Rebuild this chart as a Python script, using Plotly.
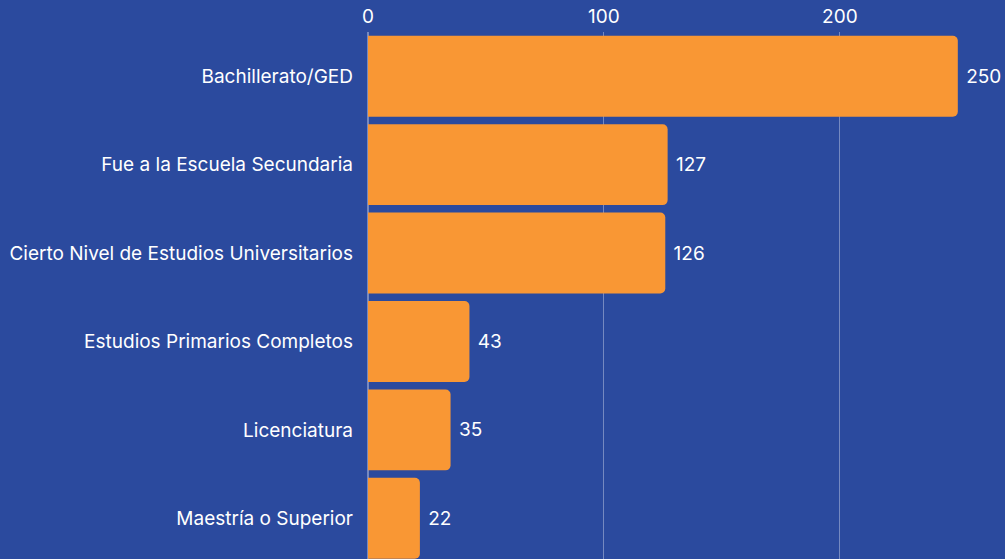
import plotly.graph_objects as go

BG = '#2b4a9e'
BAR = '#f99734'
FONT = 'Inter'

categories = [
    "Bachillerato/GED",
    "Fue a la Escuela Secundaria",
    "Cierto Nivel de Estudios Universitarios",
    "Estudios Primarios Completos",
    "Licenciatura",
    "Maestría o Superior",
]
values = [250, 127, 126, 43, 35, 22]
tick_vals = [0, 100, 200]


fig = go.Figure()
fig.add_trace(go.Bar(
    y=categories, x=values, orientation='h',
    marker=dict(color=BAR, line=dict(width=0), cornerradius=5),
    text=values, texttemplate='\u00a0%{x}', textposition='outside',
    textfont=dict(color='white', size=19, family=FONT),
    cliponaxis=False,
))
fig.update_layout(
    width=1005, height=559,
    paper_bgcolor=BG, plot_bgcolor=BG,
    margin=dict(l=368, r=0, t=32, b=0),
    bargap=0.085,
    showlegend=False,
    font=dict(family=FONT, size=19, color='white'),
    xaxis=dict(side='top', range=[0, 270], tickvals=tick_vals, showgrid=True,
               gridcolor='rgba(255,255,255,0.35)', gridwidth=1, zeroline=True,
               zerolinecolor='rgba(255,255,255,0.35)', ticklabelstandoff=4,
               tickfont=dict(size=19, color='white')),
    yaxis=dict(categoryorder='array', categoryarray=categories,
               range=[5.46, -0.5], showgrid=False, ticklabelstandoff=14,
               tickfont=dict(size=19, color='white')),
)
# page has a default 8px body margin; drop it so the chart fills the window
fig.write_html("out.html", config={'displayModeBar': False},
               post_script="document.body.style.margin='0';")
